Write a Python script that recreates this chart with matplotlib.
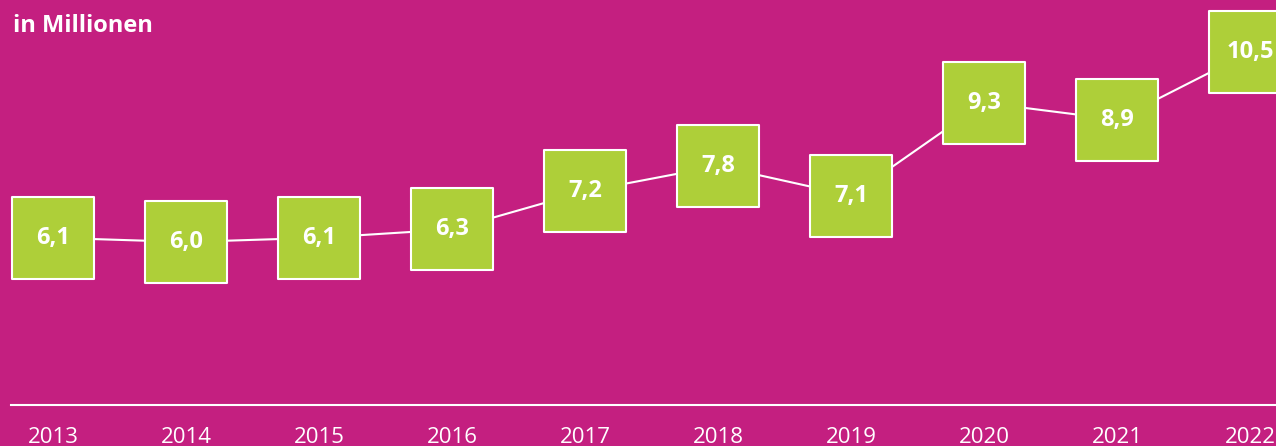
import matplotlib.pyplot as plt

plt.rcParams['font.family'] = ['Open Sans', 'DejaVu Sans']

# data
years = ['2013', '2014', '2015', '2016', '2017', '2018', '2019', '2020', '2021', '2022']
values = [6.1, 6.0, 6.1, 6.3, 7.2, 7.8, 7.1, 9.3, 8.9, 10.5]

bg = '#C41F80'
green = '#AECF39'

W, H = 1276, 446
fig = plt.figure(figsize=(W / 100, H / 100), dpi=100)
fig.patch.set_facecolor(bg)
ax = fig.add_axes([0, 0, 1, 1])
ax.set_facecolor(bg)
ax.axis('off')

# pixel-aligned scales: 133 px per year, ~42 px per million
x = list(range(len(years)))
ax.set_xlim(-53 / 133, (W - 53) / 133)
ax.set_ylim(6 - (H - 242) / 42.2, 6 + 242 / 42.2)

# connecting line
ax.plot(x, values, color='white', lw=1.5, zorder=1)

# boxes
ax.scatter(x, values, marker='s', s=59 ** 2, color=green,
           edgecolors='white', linewidths=1.5, zorder=2)

for xi, v in zip(x, values):
    ax.text(xi, v, f'{v:.1f}'.replace('.', ','), color='white',
            fontsize=17, fontweight='bold', ha='center', va='center', zorder=3)

# baseline and year labels
ax.axhline(y=ax.get_ylim()[0] + (H - 405) / 42.2, xmin=11 / W, xmax=1,
           color='white', lw=1.5)
for xi, yr in zip(x, years):
    ax.text(xi, 3 / H, yr, transform=ax.get_xaxis_transform(), color='white',
            fontsize=16, ha='center', va='baseline')

fig.text(13 / W, 1 - 32 / H, 'in Millionen', color='white',
         fontsize=17, fontweight='bold', ha='left', va='baseline')

fig.savefig('out.png', dpi=100, facecolor=bg)
